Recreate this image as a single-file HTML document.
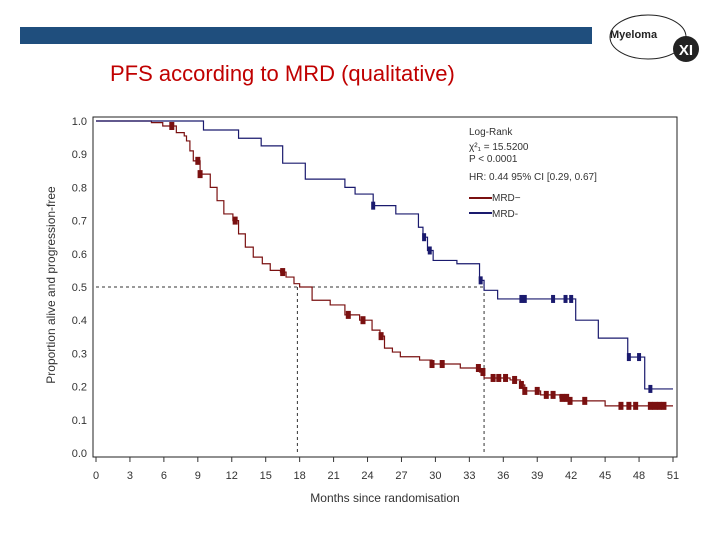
<!DOCTYPE html>
<html><head><meta charset="utf-8"><style>
body{margin:0;width:720px;height:540px;background:#fff;overflow:hidden;font-family:"Liberation Sans",sans-serif}
</style></head><body>
<svg width="720" height="540" xmlns="http://www.w3.org/2000/svg">
<rect x="20" y="27" width="572" height="17" fill="#1f4e7d"/>
<g>
<ellipse cx="648" cy="37" rx="38" ry="22" fill="none" stroke="#222" stroke-width="1"/>
<text x="610" y="38" font-size="11" font-weight="bold" fill="#222">Myeloma</text>
<circle cx="686" cy="49" r="13" fill="#222"/>
<text x="686" y="55" font-size="15" font-weight="bold" fill="#fff" text-anchor="middle">XI</text>
</g>
<text x="110" y="81" font-size="22" fill="#c00000">PFS according to MRD (qualitative)</text>
<rect x="93" y="117" width="584" height="340" fill="#fff" stroke="#222" stroke-width="1"/>
<g id="yt" font-size="11" fill="#333" text-anchor="end"></g>
<g id="xt" font-size="11" fill="#333" text-anchor="middle"></g>
<text transform="translate(55,285) rotate(-90)" font-size="12" fill="#333" text-anchor="middle">Proportion alive and progression-free</text>
<text x="385" y="502" font-size="12" fill="#333" text-anchor="middle">Months since randomisation</text>
<g id="plot"></g>
<g font-size="10" fill="#333">
<text x="469" y="135">Log-Rank</text>
<text x="469" y="150">χ²₁ = 15.5200</text>
<text x="469" y="162">P &lt; 0.0001</text>
<text x="469" y="180">HR: 0.44 95% CI [0.29, 0.67]</text>
<line x1="469" y1="198" x2="492" y2="198" stroke="#7a1010" stroke-width="2"/><text x="492" y="201">MRD−</text>
<line x1="469" y1="213" x2="492" y2="213" stroke="#1a1a6e" stroke-width="2"/><text x="492" y="217">MRD-</text>
</g>
</svg>
<script>
const yTicks=[0,0.1,0.2,0.3,0.4,0.5,0.6,0.7,0.8,0.9,1.0];
const xTicks=[0,3,6,9,12,15,18,21,24,27,30,33,36,39,42,45,48,51];
const redT=[0,4.9,5.9,7.1,7.8,8.0,8.3,8.6,9.2,10.1,10.7,11.3,12.1,12.6,13.2,13.9,14.7,15.4,16.3,16.8,17.5,18.0,19.1,20.7,22.0,23.3,24.4,25.1,25.5,26.2,26.9,28.6,29.7,32.2,33.9,34.3,36.6,37.5,37.9,39.3,41.0,41.9,45.0,51];
const redS=[1,0.995,0.985,0.965,0.955,0.94,0.91,0.88,0.84,0.80,0.76,0.72,0.70,0.66,0.62,0.59,0.57,0.55,0.545,0.53,0.51,0.50,0.46,0.446,0.416,0.40,0.37,0.352,0.316,0.304,0.29,0.28,0.268,0.256,0.244,0.226,0.22,0.205,0.187,0.175,0.166,0.157,0.142,0.142];
const blueT=[0,9.5,12.6,14.6,16.5,18.5,22,22.9,24.5,26.5,28.5,28.9,29.3,29.8,31.9,33.9,34.3,35.5,42.4,44.4,47.0,48.5,51];
const blueS=[1,0.973,0.948,0.925,0.873,0.825,0.80,0.78,0.745,0.72,0.68,0.65,0.61,0.58,0.57,0.52,0.49,0.464,0.40,0.346,0.289,0.193,0.193];
const redCens=[6.7,9.0,9.2,12.3,16.5,22.3,23.6,25.2,29.7,30.6,33.8,34.2,35.1,35.6,36.2,37.0,37.6,37.9,39.0,39.8,40.4,41.2,41.6,41.9,43.2,46.4,47.1,47.7,49.0,49.4,49.8,50.2];
const blueCens=[24.5,29.0,29.5,34.0,37.6,37.9,40.4,41.5,42.0,47.1,48.0,49.0];
const xs=m=>96+m*577/51, ys=v=>453-v*332;
const NS="http://www.w3.org/2000/svg";
function mk(t,a,p){const e=document.createElementNS(NS,t);for(const k in a)e.setAttribute(k,a[k]);document.getElementById(p).appendChild(e);return e;}
yTicks.forEach(v=>{const t=mk('text',{x:87,y:ys(v)+4},'yt');t.textContent=v.toFixed(1);

});
xTicks.forEach(m=>{const t=mk('text',{x:xs(m),y:479},'xt');t.textContent=m;


const l=mk('line',{x1:xs(m),x2:xs(m),y1:457,y2:462,stroke:'#333'},'xt');

});
function stepPath(T,S){let d=`M${xs(T[0])},${ys(S[0])}`;for(let i=1;i<T.length;i++){d+=`H${xs(T[i])}V${ys(S[i])}`;}return d;}
function sAt(T,S,m){let s=S[0];for(let i=0;i<T.length;i++)if(T[i]<=m)s=S[i];return s;}
const d1=mk('path',{d:`M${xs(0)},${ys(0.5)}H${xs(34.3)}M${xs(17.8)},${ys(0.5)}V${ys(0)}M${xs(34.3)},${ys(0.5)}V${ys(0)}`,stroke:'#333','stroke-dasharray':'3,3',fill:'none'},'plot');


const rp=mk('path',{d:stepPath(redT,redS),stroke:'#7a1010','stroke-width':1.2,fill:'none'},'plot');


const bp=mk('path',{d:stepPath(blueT,blueS),stroke:'#1a1a6e','stroke-width':1.2,fill:'none'},'plot');


redCens.forEach(m=>{const r=mk('rect',{x:xs(m)-2.5,y:ys(sAt(redT,redS,m))-4,width:5,height:8,fill:'#7a1010'},'plot');

});
blueCens.forEach(m=>{const r=mk('rect',{x:xs(m)-2,y:ys(sAt(blueT,blueS,m))-4,width:4,height:8,fill:'#1a1a6e'},'plot');

});
</script>
</body></html>
